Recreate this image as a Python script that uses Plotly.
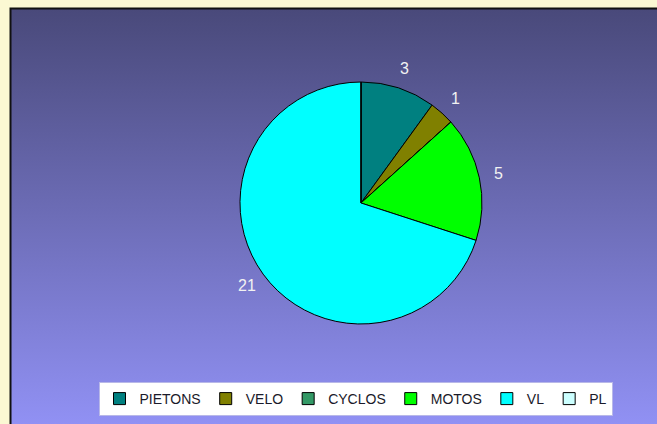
import base64
import math
import plotly.graph_objects as go

categories = ["PIETONS", "VELO", "CYCLOS", "MOTOS", "VL", "PL"]
values = [3, 1, 0, 5, 21, 0]
colors = ["#008080", "#808000", "#339966", "#00FF00", "#00FFFF", "#CCFFFF"]

W, H = 657, 424
PIE_X = [240 / W, 482 / W]
PIE_Y = [1 - 325 / H, 1 - 81 / H]

svg = (
    '<svg xmlns="http://www.w3.org/2000/svg" width="100" height="100" preserveAspectRatio="none">'
    '<defs><linearGradient id="g" x1="0" y1="0" x2="0" y2="1">'
    '<stop offset="0" stop-color="#49497A"/><stop offset="1" stop-color="#9292F6"/>'
    '</linearGradient></defs><rect width="100" height="100" fill="url(#g)"/></svg>'
)
src = "data:image/svg+xml;base64," + base64.b64encode(svg.encode()).decode()

fig = go.Figure(
    go.Pie(
        labels=categories,
        values=values,
        marker=dict(colors=colors, line=dict(color="#000000", width=1)),
        sort=False,
        direction="clockwise",
        rotation=0,
        textinfo="none",
        hoverinfo="label+value",
        domain=dict(x=PIE_X, y=PIE_Y),
        showlegend=True,
    )
)

# value labels placed outside the slices, derived from the data
cx = (PIE_X[0] + PIE_X[1]) / 2 * W
cy = (PIE_Y[0] + PIE_Y[1]) / 2 * H
radius = min((PIE_X[1] - PIE_X[0]) * W, (PIE_Y[1] - PIE_Y[0]) * H) / 2
label_r = radius + 20
total = sum(values)
cum = 0
annotations = []
for v in values:
    if v > 0:
        mid = (cum + v / 2) / total * 2 * math.pi
        px = cx + label_r * math.sin(mid)
        py = cy + label_r * math.cos(mid)
        annotations.append(
            dict(
                x=px / W, y=py / H, xref="paper", yref="paper",
                text=str(v), showarrow=False,
                xanchor="center", yanchor="middle",
                font=dict(family="Liberation Sans, Arial, sans-serif", size=16, color="#F2F2F2"),
            )
        )
    cum += v

fig.update_layout(
    width=W,
    height=H,
    margin=dict(l=0, r=0, t=0, b=0),
    paper_bgcolor="#FBF8D3",
    plot_bgcolor="rgba(0,0,0,0)",
    annotations=annotations,
    images=[
        dict(
            source=src,
            xref="paper", yref="paper",
            x=10 / W, y=1 - 8 / H,
            sizex=1.0, sizey=1.0,
            xanchor="left", yanchor="top",
            sizing="stretch",
            layer="below",
        )
    ],
    shapes=[
        dict(
            type="rect", xref="paper", yref="paper",
            x0=10.5 / W, x1=1.05, y0=-0.05, y1=1 - 8.5 / H,
            line=dict(color="#111111", width=2),
            fillcolor="rgba(0,0,0,0)",
            layer="below",
        )
    ],
    legend=dict(
        orientation="h",
        x=355.5 / W, xanchor="center",
        y=1 - 382 / H, yanchor="top",
        bgcolor="#FFFFFF",
        bordercolor="#B8B8E8",
        borderwidth=1,
        font=dict(family="Liberation Sans, Arial, sans-serif", size=14, color="#1A1A2A"),
        itemwidth=30,
        traceorder="normal",
    ),
)

fig.write_html(
    "out.html",
    config={"displayModeBar": False},
    post_script="document.body.style.margin='0';",
)
